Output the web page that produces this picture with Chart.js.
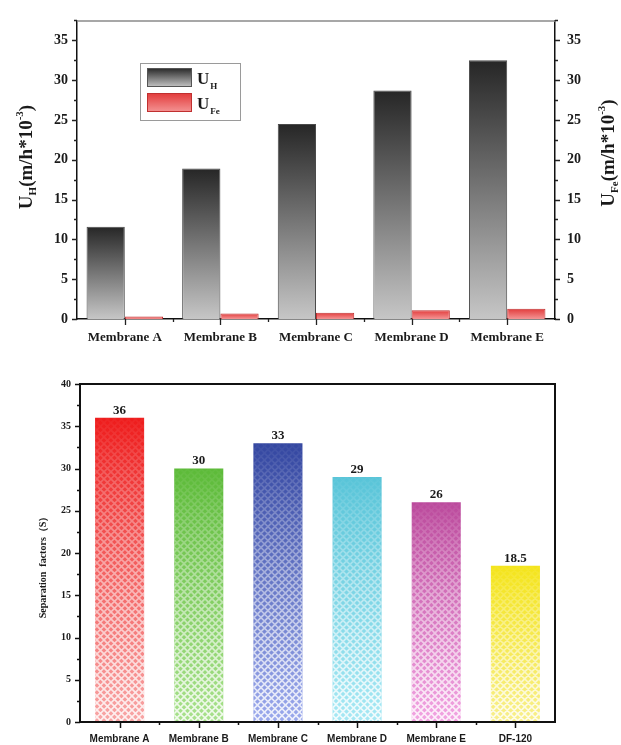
<!DOCTYPE html>
<html>
<head>
<meta charset="utf-8">
<script src="https://cdn.jsdelivr.net/npm/chart.js@4.4.1/dist/chart.umd.min.js"></script>
<style>
  html, body { margin: 0; padding: 0; background: #fff; }
  #wrap { position: relative; width: 621px; height: 745px; }
  canvas { position: absolute; left: 0; }
  #fluxChart { top: 0; }
  #sepChart { top: 345px; }
</style>
</head>
<body>
<div id="wrap">
  <canvas id="fluxChart" width="621" height="345"></canvas>
  <canvas id="sepChart" width="621" height="400"></canvas>
</div>
<script>
// ---- data ----
const membranes = ["Membrane A", "Membrane B", "Membrane C", "Membrane D", "Membrane E"];
const uH = [11.6, 18.9, 24.5, 28.7, 32.5];
const uFe = [0.3, 0.7, 0.8, 1.1, 1.3];

const sepCategories = ["Membrane A", "Membrane B", "Membrane C", "Membrane D", "Membrane E", "DF-120"];
const sepFactors = [36, 30, 33, 29, 26, 18.5];
const sepLabels = ["36", "30", "33", "29", "26", "18.5"];

const fluxTicks = [0, 5, 10, 15, 20, 25, 30, 35];
const sepTicks = [0, 5, 10, 15, 20, 25, 30, 35, 40];

// ---- styles ----
const SERIF = "'Liberation Serif', 'Times New Roman', serif";
const SANS = "'Liberation Sans', Arial, sans-serif";
const uHColors = ["#262626", "#c6c6c6"];
const uFeColors = ["#e23a3a", "#f49494"];
const sepTop = ["#ee1c1c", "#5cba38", "#3346a0", "#58c4d8", "#bb4a9c", "#f4e41a"];
const sepBottom = ["#f8a6a6", "#a8e18c", "#9aa8ec", "#a6e8f4", "#f2a4e2", "#f8ef8c"];

// gradient from the bar top (dark) to its base (light)
function barGradient(context, top, bottom) {
    const chart = context.chart;
    if (!chart.chartArea || context.type !== "data") return bottom;
    const meta = chart.getDatasetMeta(context.datasetIndex);
    const scale = chart.scales[meta.yAxisID];
    const y0 = scale.getPixelForValue(context.raw);
    const y1 = scale.getPixelForValue(0);
    if (!isFinite(y0) || Math.abs(y1 - y0) < 0.5) return bottom;
    const g = chart.ctx.createLinearGradient(0, y0, 0, y1);
    g.addColorStop(0, top);
    g.addColorStop(1, bottom);
    return g;
}

function yTickMarks(ctx, scale, x, dir, max, minor, majorLen, minorLen) {
    ctx.beginPath();
    for (let v = 0; v <= max + 1e-6; v += minor) {
        const y = Math.round(scale.getPixelForValue(v)) + 0.5;
        const isMajor = Math.abs(v / (minor * 2) - Math.round(v / (minor * 2))) < 1e-6;
        ctx.moveTo(x, y);
        ctx.lineTo(x + dir * (isMajor ? majorLen : minorLen), y);
    }
    ctx.stroke();
}

function xTickMarks(ctx, scale, y, count, majorLen, minorLen) {
    ctx.beginPath();
    for (let i = 0; i < count; i++) {
        const x = Math.round(scale.getPixelForValue(i)) + 0.5;
        ctx.moveTo(x, y);
        ctx.lineTo(x, y + majorLen);
        if (i < count - 1) {
            const xm = Math.round((scale.getPixelForValue(i) + scale.getPixelForValue(i + 1)) / 2) + 0.5;
            ctx.moveTo(xm, y);
            ctx.lineTo(xm, y + minorLen);
        }
    }
    ctx.stroke();
}

// text with sub / superscript pieces: [text, size, shift]
function richText(ctx, parts, cx, cy) {
    let total = 0;
    parts.forEach(p => {
        ctx.font = `bold ${p[1]}px ${SERIF}`;
        total += ctx.measureText(p[0]).width;
    });
    let x = cx - total / 2;
    parts.forEach(p => {
        ctx.font = `bold ${p[1]}px ${SERIF}`;
        ctx.fillText(p[0], x, cy + p[2]);
        x += ctx.measureText(p[0]).width;
    });
}

// ---- top chart: U_H and U_Fe ----
const fluxDecor = {
    id: "fluxDecor",
    afterDraw(chart) {
        const ctx = chart.ctx;
        const area = chart.chartArea;
        ctx.save();
        // top frame line
        ctx.strokeStyle = "#8a8a8a";
        ctx.lineWidth = 1.5;
        ctx.beginPath();
        ctx.moveTo(area.left, area.top + 0.5);
        ctx.lineTo(area.right, area.top + 0.5);
        ctx.stroke();

        ctx.strokeStyle = "#222";
        ctx.lineWidth = 1.3;
        yTickMarks(ctx, chart.scales.y, area.left, -1, 37.5, 2.5, 5, 3);
        yTickMarks(ctx, chart.scales.y1, area.right, 1, 37.5, 2.5, 5, 3);
        xTickMarks(ctx, chart.scales.x, area.bottom, membranes.length, 6, 3);

        // axis titles
        ctx.fillStyle = "#1a1a1a";
        ctx.textBaseline = "alphabetic";
        ctx.save();
        ctx.translate(32, 157);
        ctx.rotate(-Math.PI / 2);
        richText(ctx, [["U", 19, 0], ["H", 11, 4], ["(m/h*10", 19, 0], ["-3", 11, -9], [")", 19, 0]], 0, 0);
        ctx.restore();
        ctx.save();
        ctx.translate(614, 153);
        ctx.rotate(-Math.PI / 2);
        richText(ctx, [["U", 19, 0], ["Fe", 11, 4], ["(m/h*10", 19, 0], ["-3", 11, -9], [")", 19, 0]], 0, 0);
        ctx.restore();

        // legend
        ctx.strokeStyle = "#9a9a9a";
        ctx.lineWidth = 1;
        ctx.strokeRect(140.5, 63.5, 100, 57);
        const swatches = [[68, uHColors, "#555", "H"], [93, uFeColors, "#c03030", "Fe"]];
        swatches.forEach(([sy, cols, border, sub]) => {
            const g = ctx.createLinearGradient(0, sy, 0, sy + 19);
            g.addColorStop(0, cols[0]);
            g.addColorStop(1, cols[1]);
            ctx.fillStyle = g;
            ctx.fillRect(147, sy, 45, 19);
            ctx.strokeStyle = border;
            ctx.strokeRect(147.5, sy + 0.5, 44, 18);
            ctx.fillStyle = "#1a1a1a";
            ctx.font = `bold 17px ${SERIF}`;
            ctx.fillText("U", 197, sy + 16);
            const w = ctx.measureText("U").width;
            ctx.font = `bold 9px ${SERIF}`;
            ctx.fillText(sub, 197 + w + 1, sy + 21);
        });
        ctx.restore();
    }
};

const yTickOpts = (pad) => ({
    stepSize: 5,
    color: "#1a1a1a",
    padding: pad,
    font: { family: SERIF, size: 14, weight: "bold" },
    callback: (v) => (fluxTicks.includes(v) ? v : "")
});

new Chart(document.getElementById("fluxChart"), {
    type: "bar",
    data: {
        labels: membranes,
        datasets: [
            {
                label: "UH",
                data: uH,
                yAxisID: "y",
                backgroundColor: (c) => barGradient(c, uHColors[0], uHColors[1]),
                borderColor: "#4a4a4a",
                borderWidth: 1,
                categoryPercentage: 0.8,
                barPercentage: 1
            },
            {
                label: "UFe",
                data: uFe,
                yAxisID: "y1",
                backgroundColor: (c) => barGradient(c, uFeColors[0], uFeColors[1]),
                borderColor: "#c03030",
                borderWidth: 1,
                categoryPercentage: 0.8,
                barPercentage: 1
            }
        ]
    },
    options: {
        responsive: false,
        animation: false,
        devicePixelRatio: 1,
        layout: { padding: { top: 16, left: 0, right: 0, bottom: 0 } },
        plugins: { legend: { display: false }, tooltip: { enabled: false } },
        scales: {
            x: {
                grid: { display: false, drawTicks: false },
                border: { color: "#111", width: 1.5 },
                ticks: {
                    color: "#1a1a1a",
                    padding: 11,
                    maxRotation: 0,
                    autoSkip: false,
                    font: { family: SERIF, size: 13, weight: "bold" }
                },
                afterFit(s) { s.height = 26; }
            },
            y: {
                position: "left",
                min: 0,
                max: 37.5,
                grid: { display: false, drawTicks: false },
                border: { color: "#111", width: 1.5 },
                ticks: yTickOpts(9),
                afterFit(s) { s.width = 77; }
            },
            y1: {
                position: "right",
                min: 0,
                max: 37.5,
                grid: { display: false, drawTicks: false },
                border: { color: "#111", width: 1.5 },
                ticks: yTickOpts(12),
                afterFit(s) { s.width = 66; }
            }
        }
    },
    plugins: [fluxDecor]
});

// ---- bottom chart: separation factors ----
const sepDecor = {
    id: "sepDecor",
    afterDatasetsDraw(chart) {
        const ctx = chart.ctx;
        const meta = chart.getDatasetMeta(0);
        ctx.save();
        meta.data.forEach((bar, i) => {
            const { x, y, base, width } = bar.getProps(["x", "y", "base", "width"], true);
            const l = x - width / 2;
            const h = base - y;
            // crosshatch lattice, fading in toward the base
            ctx.save();
            ctx.beginPath();
            ctx.rect(l, y, width, h);
            ctx.clip();
            const g = ctx.createLinearGradient(0, y, 0, base);
            g.addColorStop(0, "rgba(255,255,255,0.03)");
            g.addColorStop(0.3, "rgba(255,255,255,0.3)");
            g.addColorStop(1, "rgba(255,255,255,0.85)");
            ctx.strokeStyle = g;
            ctx.lineWidth = 1.7;
            ctx.beginPath();
            const s = 7;
            for (let k = -h - s; k < width + s; k += s) {
                ctx.moveTo(l + k, base);
                ctx.lineTo(l + k + h, y);
                ctx.moveTo(l + k, y);
                ctx.lineTo(l + k + h, base);
            }
            ctx.stroke();
            ctx.restore();

            // value label
            ctx.fillStyle = "#1a1a1a";
            ctx.font = `bold 13px ${SERIF}`;
            ctx.textAlign = "center";
            ctx.textBaseline = "bottom";
            ctx.fillText(sepLabels[i], x, y - 1);
        });
        ctx.restore();
    },
    afterDraw(chart) {
        const ctx = chart.ctx;
        const area = chart.chartArea;
        ctx.save();
        ctx.strokeStyle = "#111";
        ctx.lineWidth = 2;
        ctx.strokeRect(area.left, area.top, area.right - area.left, area.bottom - area.top);
        ctx.lineWidth = 1.5;
        yTickMarks(ctx, chart.scales.y, area.left, -1, 40, 2.5, 5, 3);
        xTickMarks(ctx, chart.scales.x, area.bottom, sepCategories.length, 6, 3);

        // y axis title
        ctx.fillStyle = "#1a1a1a";
        ctx.font = `bold 10px ${SERIF}`;
        ctx.textAlign = "center";
        ctx.textBaseline = "middle";
        ctx.translate(43, (area.top + area.bottom) / 2 + 12);
        ctx.rotate(-Math.PI / 2);
        ctx.fillText("Separation  factors（S）", 0, 0);
        ctx.restore();
    }
};

new Chart(document.getElementById("sepChart"), {
    type: "bar",
    data: {
        labels: sepCategories,
        datasets: [
            {
                label: "Separation factors",
                data: sepFactors,
                backgroundColor: (c) => barGradient(c, sepTop[c.dataIndex], sepBottom[c.dataIndex]),
                borderWidth: 0,
                categoryPercentage: 1,
                barPercentage: 0.62
            }
        ]
    },
    options: {
        responsive: false,
        animation: false,
        devicePixelRatio: 1,
        layout: { padding: { top: 39, left: 0, right: 66, bottom: 0 } },
        plugins: { legend: { display: false }, tooltip: { enabled: false } },
        scales: {
            x: {
                grid: { display: false, drawTicks: false },
                border: { color: "#111", width: 2 },
                ticks: {
                    color: "#1a1a1a",
                    padding: 11,
                    maxRotation: 0,
                    autoSkip: false,
                    font: { family: SANS, size: 10, weight: "bold" }
                },
                afterFit(s) { s.height = 23; }
            },
            y: {
                min: 0,
                max: 40,
                grid: { display: false, drawTicks: false },
                border: { color: "#111", width: 2 },
                ticks: {
                    stepSize: 5,
                    color: "#1a1a1a",
                    padding: 9,
                    font: { family: SERIF, size: 10, weight: "bold" },
                    callback: (v) => (sepTicks.includes(v) ? v : "")
                },
                afterFit(s) { s.width = 80; }
            }
        }
    },
    plugins: [sepDecor]
});
</script>
</body>
</html>
